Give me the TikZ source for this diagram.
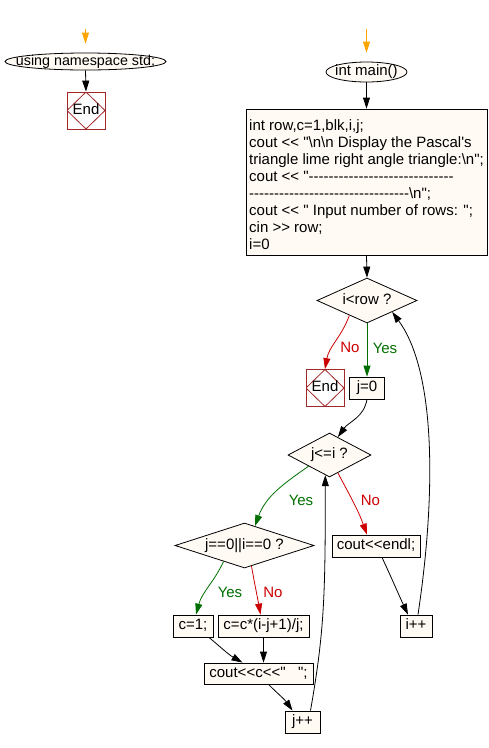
\documentclass[tikz,border=0pt]{standalone}
\usepackage{fontspec}
\newfontfamily\lsans{Liberation Sans}
\usetikzlibrary{shapes.geometric,arrows.meta,calc}
\definecolor{cream}{RGB}{255,250,244}
\definecolor{endred}{RGB}{160,40,40}
\definecolor{ygreen}{RGB}{0,110,0}
\definecolor{nred}{RGB}{204,0,0}
\definecolor{startorange}{RGB}{255,165,0}
\begin{document}
\begin{tikzpicture}[x=1pt,y=1pt,
  every node/.style={font=\lsans\fontsize{15}{17}\selectfont},
  base/.style={draw=black, line width=0.8pt, fill=cream},
  procbox/.style={base, rectangle, inner sep=0pt, minimum height=22pt, text height=10.5pt, text depth=3pt},
  decision/.style={base, diamond, aspect=3, inner sep=0pt, text height=10.5pt, text depth=3pt},
  termin/.style={base, ellipse, inner ysep=0pt, text height=9pt, text depth=1.5pt},
  endbox/.style={draw=endred, line width=0.8pt, fill=white, minimum width=38pt, minimum height=37pt, inner sep=0pt,
    text height=10.5pt, text depth=3pt,
    path picture={\draw[endred, line width=0.8pt] (path picture bounding box.north) -- (path picture bounding box.east) -- (path picture bounding box.south) -- (path picture bounding box.west) -- cycle;}},
  flow/.style={line width=0.8pt, -{Triangle[length=11pt,width=7pt]}},
  yesflow/.style={flow, color=ygreen},
  noflow/.style={flow, color=nred},
  startflow/.style={flow, color=startorange},
  ylab/.style={text=ygreen, inner sep=0pt, text height=10.5pt, text depth=0pt},
  nlab/.style={text=nred, inner sep=0pt, text height=10.5pt, text depth=0pt}
]
\path[use as bounding box] (0,0) rectangle (489,-748);

% left column
\coordinate (s1) at (85.5,-29);
\node[termin, font=\lsans\fontsize{14.3}{17}\selectfont, inner xsep=-17pt, minimum width=161pt, minimum height=17pt] (ns) at (85.5,-61.5) {using namespace std;};
\node[endbox] (end1) at (86,-110.5) {End};
\draw[startflow] (s1) -- ([yshift=9pt]ns.north);
\draw[flow] (ns.south) -- (end1.north);

% main column
\coordinate (s2) at (366.5,-29);
\node[termin, inner xsep=-4pt, minimum width=81pt, minimum height=20pt] (main) at (366.5,-72) {int main()};
\draw[startflow] (s2) -- ([yshift=9pt]main.north);

\node[base, rectangle, align=left, inner xsep=3pt, inner ysep=0pt, minimum width=241pt, minimum height=146pt] (init) at (366.5,-182) {\rule{0pt}{17pt}int row,c=1,blk,i,j;\\
cout << "\textbackslash n\textbackslash n Display the Pascal's\\
triangle lime right angle triangle:\textbackslash n";\\
cout << "-----------------------------\\
--------------------------------\textbackslash n";\\
cout << " Input number of rows: ";\\
cin >> row;\\
i=0};

\node[decision, minimum width=100pt, minimum height=45pt] (d1) at (367,-300.5) {i<row ?};
\node[endbox] (end2) at (325,-388) {End};
\node[procbox, minimum width=35pt] (j0) at (367,-388) {j=0};
\node[decision, minimum width=83pt, minimum height=44pt] (d2) at (329.5,-455) {j<=i ?};
\node[decision, minimum width=139pt, minimum height=45pt] (d3) at (244.5,-545.5) {j==0||i==0 ?};
\node[procbox, minimum width=88pt] (endl) at (376,-546) {cout<<endl;};
\node[procbox, minimum width=40pt] (c1) at (193,-626) {c=1;};
\node[procbox, minimum width=91pt] (cc) at (263.5,-626) {c=c*(i-j+1)/j;};
\node[procbox, minimum width=109pt, minimum height=21pt] (cout) at (258.5,-673.5) {cout<<c<<"\ \ \ ";};
\node[procbox, minimum width=35pt] (jpp) at (302.5,-722) {j++};
\node[procbox, minimum width=32pt] (ipp) at (416,-626) {i++};

\draw[flow] (main.south) -- (init.north);
\draw[flow] (init.south) -- (d1.north);
\draw[yesflow] (d1.south) -- (j0.north);
\draw[noflow] ($(d1.south)!0.35!(d1.west)$) to[out=-110,in=80] (end2.north);
\draw[flow] (j0.south) to[out=-100,in=55] ($(d2.north)!0.2!(d2.east)$);
\draw[yesflow] ($(d2.south)!0.5!(d2.west)$) to[out=-145,in=70] ($(d3.north)!0.15!(d3.east)$);
\draw[noflow] ($(d2.south)!0.2!(d2.east)$) to[out=-62,in=110] ([xshift=-9pt]endl.north);
\draw[yesflow] ($(d3.south)!0.3!(d3.west)$) to[out=-115,in=75] ([xshift=3pt]c1.north);
\draw[noflow] ($(d3.south)!0.1!(d3.east)$) to[out=-80,in=100] ([xshift=-3pt]cc.north);
\draw[flow] ([xshift=16pt]c1.south) to[out=-40,in=150] ([xshift=-16pt]cout.north);
\draw[flow] (cc.south) -- (cc.south |- cout.north);
\draw[flow] ([xshift=10pt]cout.south) to[out=-45,in=125] ([xshift=-10pt]jpp.north);
\draw[flow] ([xshift=8pt]jpp.north) .. controls +(14,80) and +(0,-120) .. ($(d2.south)!0.1!(d2.west)$);
\draw[flow] ([xshift=6pt]endl.south) to[out=-65,in=115] ([xshift=-8pt]ipp.north);
\draw[flow] ([xshift=2pt]ipp.north) .. controls +(18,120) and +(44,-60) .. (d1.south east);

\node[ylab] (l1) at (385,-348) {Yes};
\node[nlab] (l2) at (350,-347) {No};
\node[ylab] (l3) at (301,-500) {Yes};
\node[nlab] (l4) at (370.5,-500) {No};
\node[ylab] (l5) at (230,-592) {Yes};
\node[nlab] (l6) at (273,-592) {No};
\end{tikzpicture}
\end{document}
